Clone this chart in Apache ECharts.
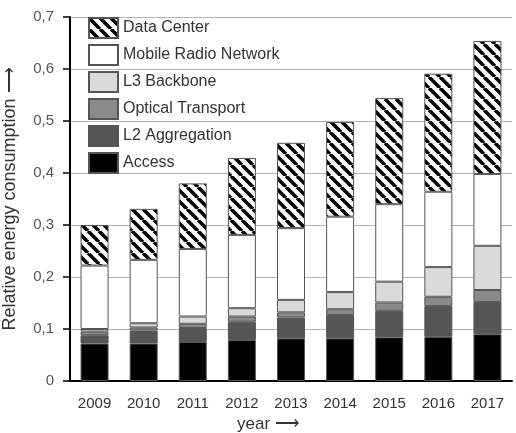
<!DOCTYPE html>
<html>
<head>
<meta charset="utf-8">
<script src="https://cdn.jsdelivr.net/npm/echarts@6/dist/echarts.min.js"></script>
<style>
html,body{margin:0;padding:0;background:#fff;}
#chart{width:516px;height:433px;}
</style>
</head>
<body>
<div id="chart"></div>
<script>
var years=['2009','2010','2011','2012','2013','2014','2015','2016','2017'];
var access=[0.072,0.072,0.075,0.079,0.082,0.082,0.084,0.085,0.090];
var l2Aggregation=[0.016,0.025,0.027,0.035,0.040,0.045,0.051,0.059,0.062];
var opticalTransport=[0.007,0.006,0.008,0.010,0.010,0.011,0.016,0.018,0.023];
var l3Backbone=[0.005,0.008,0.014,0.016,0.024,0.033,0.040,0.057,0.085];
var mobileRadio=[0.122,0.122,0.130,0.141,0.138,0.145,0.149,0.145,0.138];
var dataCenter=[0.078,0.098,0.126,0.148,0.164,0.182,0.204,0.227,0.256];

// diagonal hatch for the data center segments
function hatch(){
	var s=11;
	var c=document.createElement('canvas');
	c.width=s;c.height=s;
	var ctx=c.getContext('2d');
	ctx.fillStyle='#fff';
	ctx.fillRect(0,0,s,s);
	ctx.strokeStyle='#000';
	ctx.lineWidth=3.6;
	for(var k=-s;k<=s;k+=s){
		ctx.beginPath();
		ctx.moveTo(k,0);
		ctx.lineTo(k+s,s);
		ctx.stroke();
	}
	return c;
}

function bar(name,data,color){
	return {
		name:name,
		type:'bar',
		stack:'total',
		barWidth:28,
		data:data,
		itemStyle:{color:color,borderColor:'#555',borderWidth:1}
	};
}

var chart=echarts.init(document.getElementById('chart'));
var font='"Liberation Sans", Arial, sans-serif';
chart.setOption({
	animation:false,
	textStyle:{fontFamily:font},
	grid:{left:70,right:4,top:17,bottom:52,outerBoundsMode:'none'},
	legend:{
		orient:'vertical',
		left:88,top:17,padding:0,
		icon:'rect',
		itemWidth:29,itemHeight:20,itemGap:5,
		textStyle:{fontSize:16,color:'#333',fontFamily:font},
		data:['Data Center','Mobile Radio Network','L3 Backbone','Optical Transport','L2 Aggregation','Access']
	},
	xAxis:{
		type:'category',
		data:years,
		name:'year \u27f6',
		nameLocation:'middle',
		nameGap:35,
		nameTextStyle:{fontSize:17,color:'#333',padding:[0,46,0,0]},
		axisLine:{lineStyle:{color:'#000',width:2}},
		axisTick:{show:false},
		axisLabel:{fontSize:15,color:'#333',margin:15}
	},
	yAxis:{
		type:'value',
		min:0,max:0.7,interval:0.1,
		name:'Relative energy consumption \u27f6',
		nameLocation:'middle',
		nameGap:51,
		nameTextStyle:{fontSize:18,color:'#333'},
		axisLine:{show:true,lineStyle:{color:'#000',width:2}},
		axisTick:{show:true,length:7,lineStyle:{color:'#000',width:1.5}},
		axisLabel:{fontSize:15,color:'#555',margin:16,formatter:function(v){
			return v===0?'0':v.toFixed(1).replace('.',',');
		}},
		splitLine:{lineStyle:{color:'#b5b5b5',width:1}}
	},
	series:[
		bar('Access',access,'#000'),
		bar('L2 Aggregation',l2Aggregation,'#555'),
		bar('Optical Transport',opticalTransport,'#8a8a8a'),
		bar('L3 Backbone',l3Backbone,'#dadada'),
		bar('Mobile Radio Network',mobileRadio,'#fff'),
		bar('Data Center',dataCenter,{image:hatch(),repeat:'repeat'})
	]
});
</script>
</body>
</html>
